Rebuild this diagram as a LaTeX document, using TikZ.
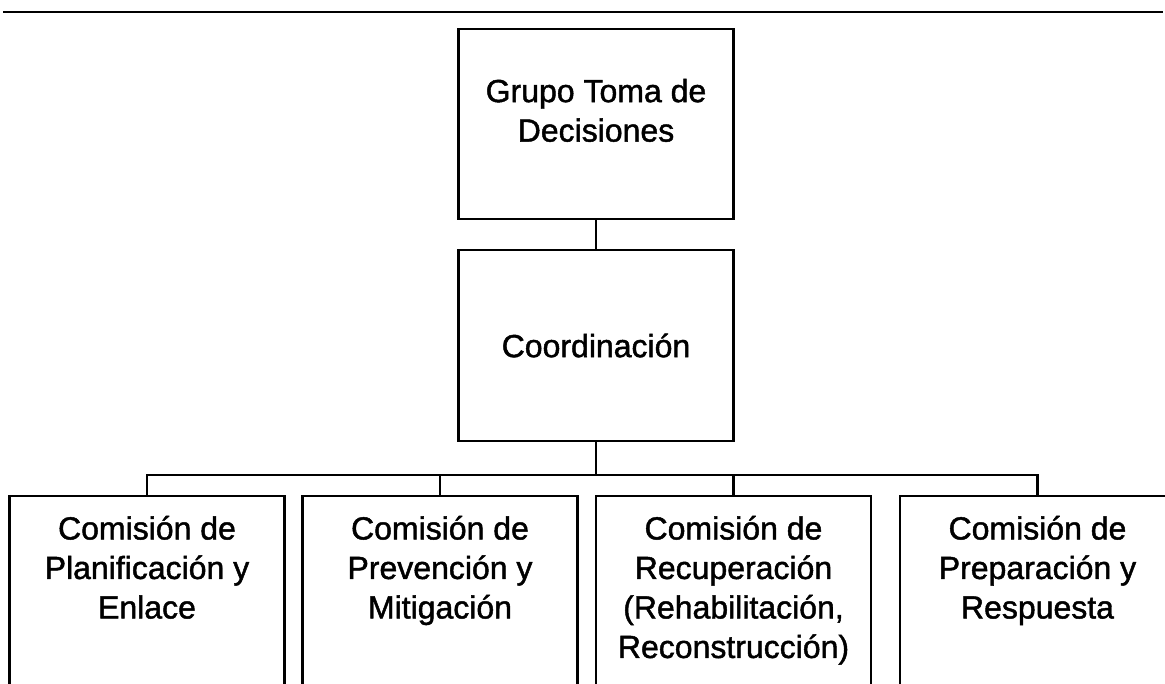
\documentclass[tikz,border=0pt]{standalone}
\usepackage{fontspec}
\setmainfont{Liberation Sans}
\newfontfamily\orgfont{Liberation Sans}[BoldFont=Liberation Sans, BoldFeatures={FakeBold=1.4}]
\usetikzlibrary{positioning}

\tikzset{
  orgbox/.style={draw, line width=2.6pt, inner sep=0pt, minimum width=275pt},
  orgtext/.style={align=center, inner sep=0pt, font=\orgfont\bfseries\fontsize{32}{39.5}\selectfont},
  link/.style={line width=2.2pt},
}

\begin{document}
\begin{tikzpicture}[x=1pt, y=-1pt]
\clip (0,0) rectangle (1165,683);
\fill[white] (0,0) rectangle (1165,683);
% linea de cabecera
\draw[line width=1.8pt] (3,12) -- (1163,12);
% niveles superiores
\node[orgbox, minimum height=190pt] (grupo) at (596,124) {};
\node[orgbox, minimum height=191pt] (coord) at (596,345.5) {};
\node[orgtext, below=51pt of grupo.north] (grupotxt) {Grupo Toma de\\Decisiones};
\node[orgtext] (coordtxt) at (coord.center) {Coordinación};
% comisiones
\node[orgbox, minimum height=224pt] (plan) at (147,608) {};
\node[orgbox, minimum height=224pt] (prev) at (440,608) {};
\node[orgbox, minimum height=224pt] (recu) at (733.5,608) {};
\node[orgbox, minimum height=224pt] (prep) at (1037.5,608) {};
\node[orgtext, below=21pt of plan.north] (plantxt) {Comisión de\\Planificación y\\Enlace};
\node[orgtext, below=21pt of prev.north] (prevtxt) {Comisión de\\Prevención y\\Mitigación};
\node[orgtext, below=21pt of recu.north] (recutxt) {Comisión de\\Recuperación\\(Rehabilitación,\\Reconstrucción)};
\node[orgtext, below=21pt of prep.north] (preptxt) {Comisión de\\Preparación y\\Respuesta};
% conectores
\coordinate (bus) at (596,475);
\draw[link] (grupo.south) -- (coord.north);
\draw[link] (coord.south) -- (coord.south |- bus);
\draw[link] (plan.north) |- (bus) -| (prep.north);
\draw[link] (prev.north) -- (prev.north |- bus);
\draw[link] (recu.north) -- (recu.north |- bus);
\end{tikzpicture}
\end{document}
